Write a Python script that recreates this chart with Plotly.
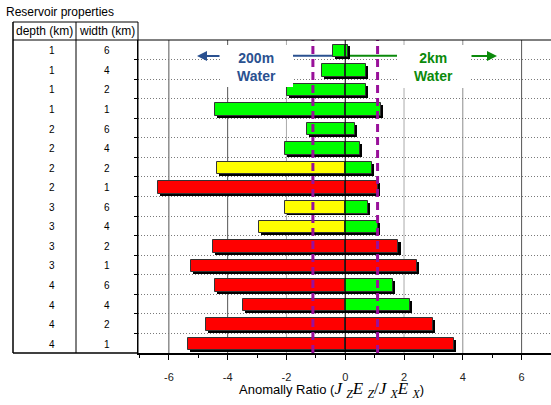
import plotly.graph_objects as go

# ---------------- data ----------------
depth_km = [1, 1, 1, 1, 2, 2, 2, 2, 3, 3, 3, 3, 4, 4, 4, 4]
width_km = [6, 4, 2, 1, 6, 4, 2, 1, 6, 4, 2, 1, 6, 4, 2, 1]
ratio_200m = [-0.42, -0.80, -1.98, -4.43, -1.30, -2.05, -4.37, -6.37,
              -2.05, -2.95, -4.50, -5.26, -4.43, -3.49, -4.73, -5.35]
ratio_2km = [0.09, 0.72, 0.69, 1.20, 0.34, 0.51, 0.90, 1.11,
             0.76, 1.11, 1.81, 2.45, 1.63, 2.21, 3.00, 3.69]
color_200m = ["g", "g", "g", "g", "g", "g", "y", "r",
              "y", "y", "r", "r", "r", "r", "r", "r"]
color_2km = ["g", "g", "g", "g", "g", "g", "g", "r",
             "g", "g", "r", "r", "g", "g", "r", "r"]
threshold = [-1.1, 1.1]
x_ticks = [-6, -4, -2, 0, 2, 4, 6]
grid_colors = ["#555555", "#555555", "#ababab", None, "#ababab", "#8c8c8c", "#555555"]

palette = {"r": "#FF0000", "y": "#FFFF00", "g": "#00FF00"}

# ---------------- geometry helpers (pixels -> paper / data) ----------------
W, H = 551, 405
L, R, T, B = 138, 551, 40, 353
XR = [-7.05, 7.0]
n = len(depth_km)


def ppx(x):
    return (x - L) / (R - L)


def ppy(y):
    return (B - y) / (B - T)


def dx(x):
    return XR[0] + (x - L) / (R - L) * (XR[1] - XR[0])


def dy(y):
    return (y - T) / ((B - T) / n) - 0.5


rows = list(range(n))
bar_w = 0.64
yoff = 0.05

fig = go.Figure()

# shadows
fig.add_trace(go.Bar(
    orientation="h",
    y=[r + yoff + 0.1 for r in rows],
    base=[a + 0.07 for a in ratio_200m],
    x=[b - a for a, b in zip(ratio_200m, ratio_2km)],
    width=bar_w, marker=dict(color="black", line=dict(width=0)),
    hoverinfo="skip", showlegend=False))

# left segment (200 m water)
fig.add_trace(go.Bar(
    orientation="h",
    y=[r + yoff for r in rows],
    base=ratio_200m,
    x=[-a for a in ratio_200m],
    width=bar_w,
    marker=dict(color=[palette[c] for c in color_200m],
                line=dict(color="#333333", width=1)),
    showlegend=False))

# right segment (2 km water)
fig.add_trace(go.Bar(
    orientation="h",
    y=[r + yoff for r in rows],
    base=[0] * n,
    x=ratio_2km,
    width=bar_w,
    marker=dict(color=[palette[c] for c in color_2km],
                line=dict(color="#333333", width=1)),
    showlegend=False))

shapes = []
# vertical grid lines
for v, c in zip(x_ticks, grid_colors):
    if c is None:
        continue
    shapes.append(dict(type="line", xref="x", yref="paper", x0=v, x1=v, y0=0, y1=1,
                       line=dict(color=c, width=1), layer="below"))
# zero line above bars
shapes.append(dict(type="line", xref="x", yref="paper", x0=0, x1=0, y0=0, y1=1,
                   line=dict(color="black", width=1), layer="above"))
# threshold lines
for t in threshold:
    shapes.append(dict(type="line", xref="x", yref="paper", x0=t, x1=t, y0=0, y1=1,
                       line=dict(color="#99109A", width=3, dash="8px,5px"), layer="above"))
# white text boxes
shapes.append(dict(type="rect", xref="x", yref="y", x0=dx(221.7), x1=dx(293),
                   y0=dy(45), y1=dy(87), fillcolor="white", line=dict(width=0), layer="above"))
shapes.append(dict(type="rect", xref="x", yref="y", x0=dx(398), x1=dx(471),
                   y0=dy(45), y1=dy(88), fillcolor="white", line=dict(width=0), layer="above"))
# connector lines
shapes.append(dict(type="line", xref="x", yref="y", x0=dx(293), x1=dx(333),
                   y0=dy(55.7), y1=dy(55.7), line=dict(color="#2A5190", width=2), layer="below"))
shapes.append(dict(type="line", xref="x", yref="y", x0=dx(348), x1=dx(397),
                   y0=dy(55.7), y1=dy(55.7), line=dict(color="#0B8A0B", width=2), layer="below"))
# plot top border / table lines
shapes.append(dict(type="line", xref="paper", yref="paper", x0=ppx(13), x1=1,
                   y0=1, y1=1, line=dict(color="black", width=1)))
shapes.append(dict(type="line", xref="paper", yref="paper", x0=ppx(13), x1=0,
                   y0=ppy(22), y1=ppy(22), line=dict(color="black", width=1)))
shapes.append(dict(type="line", xref="paper", yref="paper", x0=ppx(13), x1=0,
                   y0=0, y1=0, line=dict(color="black", width=1.5)))
shapes.append(dict(type="line", xref="paper", yref="paper", x0=ppx(13), x1=ppx(13),
                   y0=0, y1=ppy(22), line=dict(color="black", width=1.5)))
shapes.append(dict(type="line", xref="paper", yref="paper", x0=ppx(76), x1=ppx(76),
                   y0=0, y1=ppy(22), line=dict(color="black", width=1)))
shapes.append(dict(type="line", xref="paper", yref="paper", x0=0, x1=0,
                   y0=0, y1=ppy(22), line=dict(color="black", width=1)))

annotations = []
font = "Liberation Sans, Arial, sans-serif"
annotations.append(dict(text="Reservoir properties", xref="paper", yref="paper",
                        x=ppx(4), y=ppy(12), xanchor="left", yanchor="middle",
                        showarrow=False, font=dict(family=font, size=12, color="black")))
annotations.append(dict(text="depth (km)", xref="paper", yref="paper",
                        x=ppx(44.5), y=ppy(31), xanchor="center", yanchor="middle",
                        showarrow=False, font=dict(family=font, size=12, color="black")))
annotations.append(dict(text="width (km)", xref="paper", yref="paper",
                        x=ppx(107), y=ppy(31), xanchor="center", yanchor="middle",
                        showarrow=False, font=dict(family=font, size=12, color="black")))
for r, d, w in zip(rows, depth_km, width_km):
    annotations.append(dict(text=str(d), xref="paper", yref="y", x=ppx(52), y=r,
                            yshift=-1, xanchor="center", yanchor="middle", showarrow=False,
                            font=dict(family=font, size=10, color="black")))
    annotations.append(dict(text=str(w), xref="paper", yref="y", x=ppx(107), y=r,
                            yshift=-1, xanchor="center", yanchor="middle", showarrow=False,
                            font=dict(family=font, size=10, color="black")))

# water labels and arrows
annotations.append(dict(text="<b>200m<br>Water</b>", xref="x", yref="y", x=dx(256), y=dy(67),
                        xanchor="center", yanchor="middle", showarrow=False,
                        font=dict(family=font, size=14, color="#2A5190")))
annotations.append(dict(text="<b>2km<br>Water</b>", xref="x", yref="y", x=dx(433.5), y=dy(67),
                        xanchor="center", yanchor="middle", showarrow=False,
                        font=dict(family=font, size=14, color="#0B8A0B")))
annotations.append(dict(text="", xref="x", yref="y", x=dx(197), y=dy(56),
                        axref="x", ayref="y", ax=dx(221), ay=dy(56), showarrow=True,
                        arrowhead=2, arrowsize=1, arrowwidth=2, arrowcolor="#2A5190"))
annotations.append(dict(text="", xref="x", yref="y", x=dx(497), y=dy(56),
                        axref="x", ayref="y", ax=dx(470), ay=dy(56), showarrow=True,
                        arrowhead=2, arrowsize=1, arrowwidth=2, arrowcolor="#0B8A0B"))

# x-axis title
serif = "Liberation Serif, Times New Roman, serif"
title_txt = ("Anomally Ratio (<span style='font-family:%s;font-size:17px'>"
             "<i>J</i> <sub><i>Z</i></sub><i>E</i> <sub><i>Z</i></sub>/"
             "<i>J</i> <sub><i>X</i></sub><i>E</i> <sub><i>X</i></sub></span>)") % serif
annotations.append(dict(text=title_txt, xref="paper", yref="paper", x=ppx(331), y=ppy(390),
                        xanchor="center", yanchor="middle", showarrow=False,
                        font=dict(family=font, size=13, color="black")))

fig.update_layout(
    width=W, height=H,
    margin=dict(l=L, r=W - R, t=T, b=H - B, pad=0),
    paper_bgcolor="white", plot_bgcolor="white",
    barmode="overlay", bargap=0,
    showlegend=False,
    shapes=shapes, annotations=annotations,
    xaxis=dict(range=XR, tickvals=x_ticks, ticktext=[str(v) for v in x_ticks],
               showgrid=False, zeroline=False,
               showline=True, linecolor="black", linewidth=1.5,
               ticks="outside", ticklen=5, tickcolor="black", ticklabelstandoff=8,
               minor=dict(dtick=1, ticks="outside", ticklen=3, tickcolor="black", showgrid=False),
               tickfont=dict(family=font, size=11, color="#222222"), fixedrange=True),
    yaxis=dict(range=[n - 0.5, -0.5], tickvals=[i + 0.5 for i in range(n - 1)],
               showticklabels=False, showgrid=True, gridcolor="#7a7a7a", griddash="1px,2px",
               gridwidth=1, zeroline=False, showline=True, linecolor="black", linewidth=1,
               ticks="outside", ticklen=3, tickcolor="black", fixedrange=True),
)

fig.write_html("out.html")
